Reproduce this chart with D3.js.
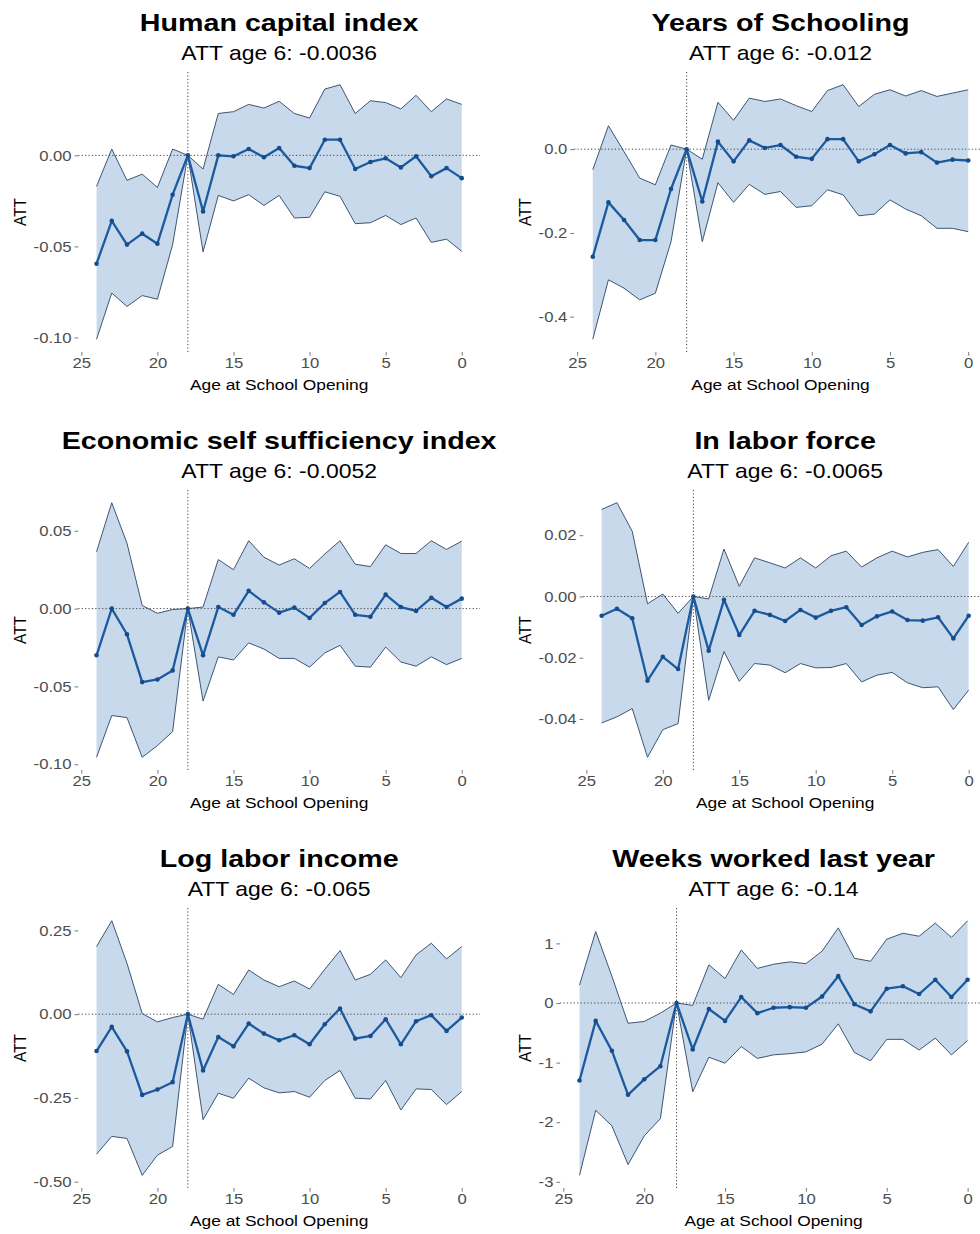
<!DOCTYPE html>
<html>
<head>
<meta charset="utf-8">
<script src="https://cdn.jsdelivr.net/npm/d3@7"></script>
<style>
  body { margin: 0; background: #fff; }
  svg { display: block; font-family: "Liberation Sans", Arial, Helvetica, sans-serif; }
</style>
</head>
<body>
<svg id="chart" width="980" height="1234"></svg>
<script>
// Event-study estimates by age at school opening (24 down to 0); age 18 is the reference year.
const ages = d3.range(24, -1, -1);
const refAge = 18;
const reportAge = 6;
const xTicks = [25, 20, 15, 10, 5, 0];

// Human capital index
const hciEst = [-0.0595, -0.036, -0.049, -0.043, -0.0485, -0.0216, 0, -0.0308, 0, -0.0005, 0.0035, -0.001, 0.004, -0.0057, -0.007, 0.0086, 0.0086, -0.0075, -0.0036, -0.0016, -0.0066, -0.0005, -0.0115, -0.007, -0.0125];
const hciHi  = [-0.017, 0.0035, -0.0137, -0.0103, -0.0176, 0.0035, 0, -0.0075, 0.023, 0.024, 0.028, 0.026, 0.0297, 0.023, 0.0205, 0.0364, 0.0388, 0.023, 0.030, 0.029, 0.0255, 0.033, 0.024, 0.031, 0.028];
const hciLo  = [-0.101, -0.0756, -0.083, -0.077, -0.079, -0.049, 0, -0.053, -0.022, -0.025, -0.0216, -0.0275, -0.022, -0.0344, -0.034, -0.020, -0.0225, -0.0375, -0.037, -0.033, -0.038, -0.0344, -0.0478, -0.046, -0.0527];
const hciTicks = [0, -0.05, -0.10];
const hciTickLabels = ["0.00", "-0.05", "-0.10"];

// Years of schooling
const yosEst = [-0.257, -0.127, -0.169, -0.217, -0.217, -0.095, 0, -0.125, 0.018, -0.029, 0.021, 0.003, 0.010, -0.018, -0.023, 0.024, 0.024, -0.029, -0.012, 0.010, -0.010, -0.007, -0.032, -0.025, -0.027];
const yosHi  = [-0.049, 0.056, -0.006, -0.069, -0.085, 0.010, 0, -0.024, 0.112, 0.069, 0.122, 0.114, 0.120, 0.104, 0.090, 0.140, 0.154, 0.102, 0.131, 0.142, 0.127, 0.140, 0.126, 0.134, 0.142];
const yosLo  = [-0.454, -0.312, -0.332, -0.360, -0.344, -0.221, 0, -0.221, -0.080, -0.127, -0.084, -0.108, -0.101, -0.139, -0.135, -0.097, -0.109, -0.159, -0.155, -0.121, -0.143, -0.159, -0.189, -0.189, -0.197];
const yosTicks = [0, -0.2, -0.4];
const yosTickLabels = ["0.0", "-0.2", "-0.4"];

// Economic self sufficiency index
const essEst = [-0.030, 0, -0.0165, -0.0472, -0.0455, -0.0397, 0, -0.030, 0.001, -0.004, 0.0114, 0.004, -0.0026, 0.0006, -0.006, 0.0036, 0.0107, -0.004, -0.0052, 0.009, 0.001, -0.0015, 0.0069, 0.001, 0.0064];
const essHi  = [0.0365, 0.068, 0.042, 0.002, -0.003, -0.0006, 0, 0.001, 0.0315, 0.025, 0.0436, 0.033, 0.028, 0.032, 0.0258, 0.035, 0.0436, 0.0285, 0.027, 0.041, 0.0354, 0.0354, 0.0436, 0.038, 0.0433];
const essLo  = [-0.0955, -0.0687, -0.070, -0.0955, -0.088, -0.079, 0, -0.0594, -0.031, -0.033, -0.022, -0.026, -0.032, -0.032, -0.0376, -0.0285, -0.0236, -0.037, -0.0376, -0.0247, -0.0343, -0.037, -0.031, -0.036, -0.032];
const essTicks = [0.05, 0, -0.05, -0.10];
const essTickLabels = ["0.05", "0.00", "-0.05", "-0.10"];

// In labor force
const lfEst = [-0.0063, -0.004, -0.0071, -0.0275, -0.0197, -0.0237, 0, -0.0177, -0.0011, -0.0126, -0.0047, -0.006, -0.008, -0.0044, -0.0069, -0.0047, -0.0035, -0.0093, -0.0065, -0.0049, -0.0077, -0.0079, -0.0068, -0.0137, -0.0063];
const lfHi  = [0.0284, 0.0306, 0.0213, -0.0024, 0.0008, -0.0055, 0, -0.0008, 0.0155, 0.0033, 0.0126, 0.011, 0.0093, 0.0126, 0.0093, 0.0133, 0.0148, 0.0096, 0.0126, 0.0148, 0.0129, 0.0144, 0.0153, 0.0098, 0.0177];
const lfLo  = [-0.0413, -0.0393, -0.0366, -0.0525, -0.0435, -0.0415, 0, -0.0339, -0.018, -0.0277, -0.0219, -0.0224, -0.0249, -0.0219, -0.0233, -0.0232, -0.0219, -0.0279, -0.0257, -0.0248, -0.0282, -0.0298, -0.0295, -0.0369, -0.0306];
const lfTicks = [0.02, 0, -0.02, -0.04];
const lfTickLabels = ["0.02", "0.00", "-0.02", "-0.04"];

// Log labor income
const incEst = [-0.110, -0.038, -0.111, -0.241, -0.225, -0.203, 0, -0.168, -0.068, -0.096, -0.028, -0.058, -0.078, -0.063, -0.090, -0.030, 0.017, -0.073, -0.065, -0.015, -0.090, -0.021, -0.003, -0.050, -0.010];
const incHi  = [0.202, 0.279, 0.152, 0.002, -0.023, -0.010, 0, -0.015, 0.089, 0.059, 0.132, 0.102, 0.082, 0.099, 0.075, 0.134, 0.190, 0.102, 0.119, 0.162, 0.109, 0.177, 0.212, 0.165, 0.202];
const incLo  = [-0.418, -0.365, -0.371, -0.481, -0.421, -0.395, 0, -0.315, -0.236, -0.251, -0.191, -0.220, -0.235, -0.231, -0.248, -0.198, -0.168, -0.251, -0.253, -0.198, -0.286, -0.223, -0.225, -0.270, -0.231];
const incTicks = [0.25, 0, -0.25, -0.50];
const incTickLabels = ["0.25", "0.00", "-0.25", "-0.50"];

// Weeks worked last year
const wkEst = [-1.30, -0.30, -0.80, -1.54, -1.28, -1.06, 0, -0.78, -0.10, -0.30, 0.10, -0.17, -0.08, -0.07, -0.08, 0.11, 0.45, -0.02, -0.14, 0.24, 0.28, 0.15, 0.39, 0.10, 0.39];
const wkHi  = [0.30, 1.20, 0.45, -0.34, -0.31, -0.17, 0, -0.04, 0.64, 0.41, 0.89, 0.58, 0.65, 0.69, 0.66, 0.87, 1.26, 0.75, 0.70, 1.07, 1.17, 1.12, 1.34, 1.10, 1.38];
const wkLo  = [-2.89, -1.80, -2.06, -2.71, -2.23, -1.94, 0, -1.49, -0.91, -1.01, -0.73, -0.93, -0.87, -0.85, -0.82, -0.69, -0.35, -0.83, -0.97, -0.61, -0.61, -0.79, -0.59, -0.87, -0.63];
const wkTicks = [1, 0, -1, -2, -3];
const wkTickLabels = ["1", "0", "-1", "-2", "-3"];

const titles = ["Human capital index", "Years of Schooling", "Economic self sufficiency index",
                "In labor force", "Log labor income", "Weeks worked last year"];

const panels = [
  { title: titles[0], est: hciEst, hi: hciHi, lo: hciLo, ticks: hciTicks, tickLabels: hciTickLabels },
  { title: titles[1], est: yosEst, hi: yosHi, lo: yosLo, ticks: yosTicks, tickLabels: yosTickLabels },
  { title: titles[2], est: essEst, hi: essHi, lo: essLo, ticks: essTicks, tickLabels: essTickLabels },
  { title: titles[3], est: lfEst,  hi: lfHi,  lo: lfLo,  ticks: lfTicks,  tickLabels: lfTickLabels },
  { title: titles[4], est: incEst, hi: incHi, lo: incLo, ticks: incTicks, tickLabels: incTickLabels },
  { title: titles[5], est: wkEst,  hi: wkHi,  lo: wkLo,  ticks: wkTicks,  tickLabels: wkTickLabels }
];

// ---- layout & style ----
const svg = d3.select("#chart");
const colX = [0, 505];
const colClip = [[0, 497], [497, 980]];
const panelRight = [480, 987];
const firstTop = 72, rowPitch = 418, panelH = 280;
const leftBase = 40.3;

const lineColor = "#1c5a9f";
const ribbonFill = "#c7d9eb";
const ribbonEdge = "#3d5674";
const tickText = "#4d4d4d";
const sxTitle = 1.22, sxSub = 1.12, sxTick = 1.15, sxAxis = 1.12;

const defs = svg.append("defs");
colClip.forEach((c, i) => {
  defs.append("clipPath").attr("id", "col" + i)
    .append("rect").attr("x", c[0]).attr("y", 0).attr("width", c[1] - c[0]).attr("height", 1234);
});

function stretchedText(g, x, y, sx, txt) {
  return g.append("text")
    .attr("transform", `translate(${x},${y}) scale(${sx},1)`)
    .attr("text-anchor", "middle")
    .text(txt);
}

panels.forEach((p, i) => {
  const col = i % 2, row = Math.floor(i / 2);
  const top = firstTop + row * rowPitch;
  const bottom = top + panelH;
  const g = svg.append("g").attr("clip-path", `url(#col${col})`);

  // y scale with 5% padding on the interval range
  const lo = d3.min(p.lo), hi = d3.max(p.hi);
  const pad = (hi - lo) * 0.05;
  const y = d3.scaleLinear().domain([lo - pad, hi + pad]).range([bottom, top]);

  // y axis first, so its label width sets the panel's left edge
  const yAxisG = g.append("g");
  yAxisG.call(d3.axisLeft(y).tickValues(p.ticks)
      .tickFormat((d, k) => p.tickLabels[k]).tickSize(3.7).tickPadding(3));
  yAxisG.select(".domain").remove();
  yAxisG.selectAll(".tick line").attr("stroke", "#555").attr("stroke-width", 0.8);
  yAxisG.selectAll(".tick text")
    .attr("fill", tickText).attr("font-size", 14.5)
    .attr("font-family", "Liberation Sans, Arial, sans-serif")
    .attr("x", -6.7 / sxTick)
    .attr("transform", `scale(${sxTick},1)`);
  let labelW = 0;
  yAxisG.selectAll(".tick text").each(function () {
    labelW = Math.max(labelW, this.getComputedTextLength() * sxTick);
  });
  const left = colX[col] + leftBase + labelW;
  yAxisG.attr("transform", `translate(${left},0)`);

  const x = d3.scaleLinear().domain([25.2, -1.2]).range([left, panelRight[col]]);

  // x axis
  const xAxisG = g.append("g").attr("transform", `translate(0,${bottom})`);
  xAxisG.call(d3.axisBottom(x).tickValues(xTicks).tickFormat(d3.format("d"))
      .tickSize(3.7).tickPadding(2.5));
  xAxisG.select(".domain").remove();
  xAxisG.selectAll(".tick line").attr("stroke", "#555").attr("stroke-width", 0.8);
  xAxisG.selectAll(".tick text")
    .attr("fill", tickText).attr("font-size", 14.5)
    .attr("font-family", "Liberation Sans, Arial, sans-serif")
    .attr("transform", `scale(${sxTick},1)`);

  const rows = ages.map((a, k) => ({ age: a, est: p.est[k], lo: p.lo[k], hi: p.hi[k] }));

  // confidence band
  g.append("path").datum(rows)
    .attr("fill", ribbonFill)
    .attr("d", d3.area().x(d => x(d.age)).y0(d => y(d.lo)).y1(d => y(d.hi)));
  ["hi", "lo"].forEach(key => {
    g.append("path").datum(rows)
      .attr("fill", "none").attr("stroke", ribbonEdge).attr("stroke-width", 1)
      .attr("d", d3.line().x(d => x(d.age)).y(d => y(d[key])));
  });

  // reference lines
  g.append("line")
    .attr("x1", left).attr("x2", panelRight[col])
    .attr("y1", y(0)).attr("y2", y(0))
    .attr("stroke", "#444").attr("stroke-width", 1).attr("stroke-dasharray", "1.2,2.2");
  g.append("line")
    .attr("x1", x(refAge)).attr("x2", x(refAge))
    .attr("y1", top).attr("y2", bottom)
    .attr("stroke", "#444").attr("stroke-width", 1).attr("stroke-dasharray", "1.2,2.2");

  // point estimates
  g.append("path").datum(rows)
    .attr("fill", "none").attr("stroke", lineColor).attr("stroke-width", 2.3)
    .attr("stroke-linejoin", "round")
    .attr("d", d3.line().x(d => x(d.age)).y(d => y(d.est)));
  g.selectAll("circle.pt").data(rows).join("circle")
    .attr("class", "pt")
    .attr("cx", d => x(d.age)).attr("cy", d => y(d.est)).attr("r", 2.3)
    .attr("fill", "#174c8c");

  // titles
  const cx = (left + panelRight[col]) / 2;
  stretchedText(g, cx, top - 41, sxTitle, p.title)
    .attr("font-size", 23.5).attr("font-weight", "bold").attr("fill", "#000");
  const att = p.est[ages.indexOf(reportAge)];
  stretchedText(g, cx, top - 12, sxSub, "ATT age 6: " + att.toPrecision(2))
    .attr("font-size", 20.5).attr("fill", "#000");

  // axis titles
  stretchedText(g, cx, bottom + 38, sxAxis, "Age at School Opening")
    .attr("font-size", 15.5).attr("fill", "#000");
  g.append("text")
    .attr("transform", `translate(${colX[col] + 20},${(top + bottom) / 2}) scale(${sxAxis},1) rotate(-90)`)
    .attr("text-anchor", "middle").attr("dy", "0.36em")
    .attr("font-size", 15.5).attr("fill", "#000")
    .text("ATT");
});
</script>
</body>
</html>
